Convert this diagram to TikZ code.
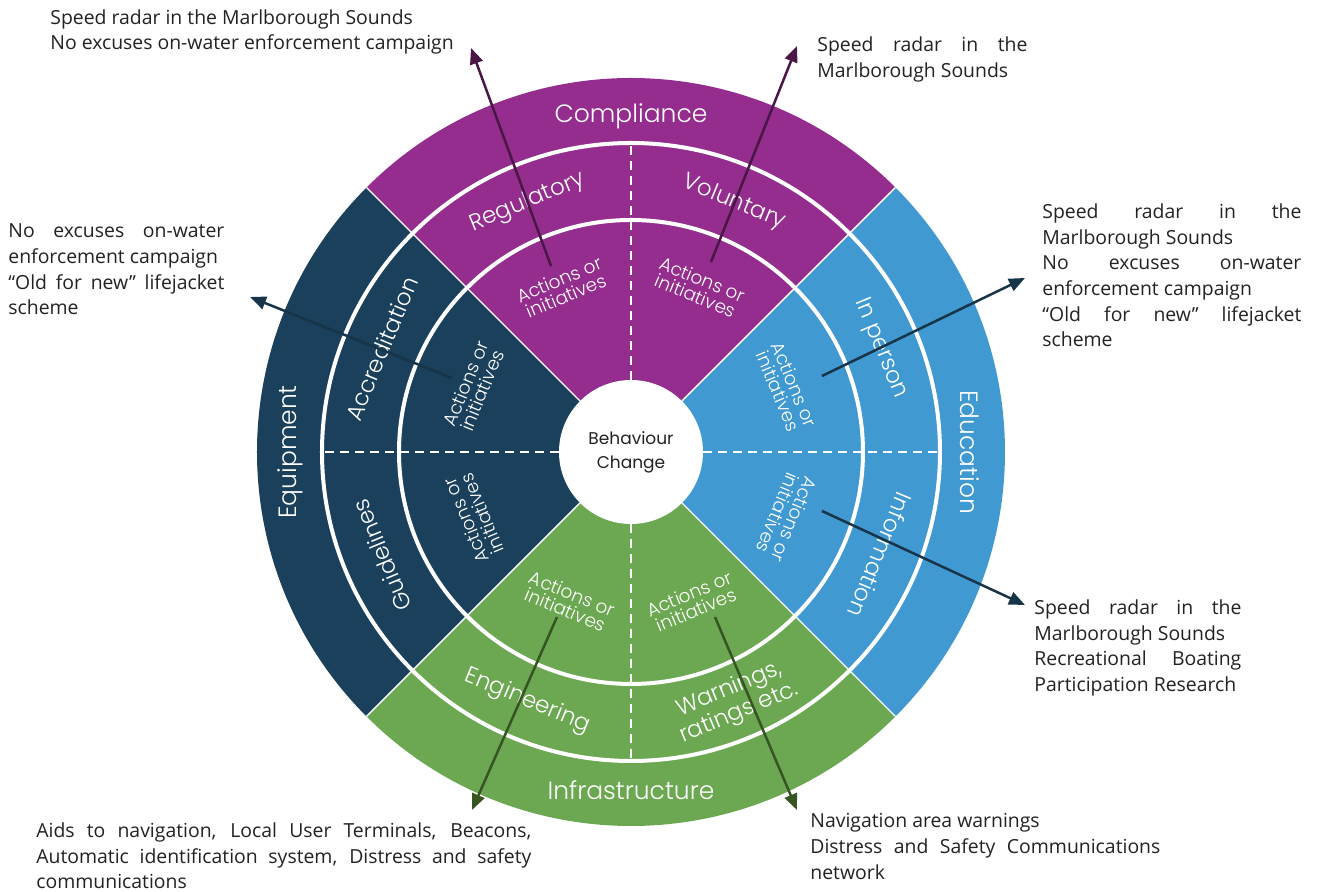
\documentclass[tikz,border=0pt]{standalone}
\usepackage{fontspec}
\setmainfont{Open Sans}
\newfontfamily\wheelfont{Poppins Light}
\newfontfamily\centrefont{Poppins}
\usetikzlibrary{arrows.meta}

\definecolor{compcol}{RGB}{148,45,141}
\definecolor{equipcol}{RGB}{26,64,91}
\definecolor{educol}{RGB}{65,153,210}
\definecolor{infracol}{RGB}{108,168,82}
\definecolor{comparrow}{RGB}{74,22,70}
\definecolor{navyarrow}{RGB}{23,52,72}
\definecolor{infraarrow}{RGB}{55,85,35}
\definecolor{notecol}{RGB}{34,34,34}

\tikzset{
  note/.style={inner sep=0pt, text=notecol, anchor=west, align=left,
    font=\fontsize{9.7}{12.8}\selectfont},
  jnote/.style={note, text width=#1, align=justify},
  wlabel/.style={text=white, inner sep=0pt, align=center,
    font=\wheelfont\fontsize{11.5}{10.5}\selectfont},
  blabel/.style={wlabel, font=\wheelfont\fontsize{12.5}{12.5}\selectfont},
  alabel/.style={wlabel, font=\wheelfont\fontsize{9.2}{8.8}\selectfont},
  pointer/.style={draw=#1, line width=1.25pt, -{Triangle[length=8pt,width=6.5pt]}},
  ring/.style={draw=white, line width=2pt},
  split/.style={draw=white, line width=1pt, dash pattern=on 4.5pt off 3pt},
}

\begin{document}
\begin{tikzpicture}[x=0.5pt,y=0.5pt]
  \useasboundingbox (-631,-440) rectangle (687,452);

  % the four quarters of the wheel
  \foreach \a/\c in {45/compcol,135/equipcol,225/infracol,-45/educol}
    \fill[\c] (0,0) -- (\a:374) arc[start angle=\a, delta angle=90, radius=374] -- cycle;
  \draw[ring] (0,0) circle[radius=232];
  \draw[ring] (0,0) circle[radius=309];
  \foreach \a in {45,135,225,315}
    \draw[white, line width=0.7pt] (\a:72) -- (\a:374);
  \foreach \a in {0,90,180,270}
    \draw[split] (\a:72) -- (\a:309);

  \node (centre) [circle, fill=white, minimum size=72pt, inner sep=0pt, align=center,
    text=notecol, font=\centrefont\fontsize{8.5}{12}\selectfont] at (0,0) {Behaviour\\Change};

  \node (compliance) [blabel] at (90:336) {Compliance};
  \node (regulatory) [wlabel, rotate=22.5] at (112.5:270) {Regulatory};
  \node (voluntary) [wlabel, rotate=-22.5] at (67.5:270) {Voluntary};
  \node (compactL) [alabel, rotate=22.5] at (112.5:178) {Actions or\\initiatives};
  \node (compactR) [alabel, rotate=-22.5] at (67.5:178) {Actions or\\initiatives};

  \node (equipment) [blabel, rotate=90] at (180:341) {Equipment};
  \node (accreditation) [wlabel, rotate=67.5] at (157.5:270) {Accreditation};
  \node (guidelines) [wlabel, rotate=112.5] at (202.5:270) {Guidelines};
  \node (equipactU) [alabel, rotate=67.5] at (157.5:170) {Actions or\\initiatives};
  \node (equipactD) [alabel, rotate=112.5] at (202.5:170) {Actions or\\initiatives};

  \node (education) [blabel, rotate=-90] at (0:339) {Education};
  \node (inperson) [wlabel, rotate=-67.5] at (22.5:270) {In person};
  \node (information) [wlabel, rotate=-112.5] at (-22.5:270) {Information};
  \node (eduactU) [alabel, rotate=-67.5] at (22.5:168) {Actions or\\initiatives};
  \node (eduactD) [alabel, rotate=-112.5] at (-22.5:168) {Actions or\\initiatives};

  \node (infrastructure) [blabel] at (270:338) {Infrastructure};
  \node (engineering) [wlabel, rotate=-22.5] at (247.5:270) {Engineering};
  \node (warnings) [wlabel, rotate=22.5] at (292.5:270) {Warnings,\\ratings etc.};
  \node (infraactL) [alabel, rotate=-22.5] at (247.5:162) {Actions or\\initiatives};
  \node (infraactR) [alabel, rotate=22.5] at (292.5:162) {Actions or\\initiatives};

  % notes round the wheel
  \node (compnoteL) [note] at (-581,420)
    {Speed radar in the Marlborough Sounds\\No excuses on-water enforcement campaign};
  \node (compnoteR) [jnote=105pt] at (186,392.5)
    {Speed radar in the\linebreak Marlborough Sounds};
  \node (equipnote) [jnote=108pt] at (-623,182.5)
    {No excuses on-water\linebreak enforcement campaign\\“Old for new” lifejacket\linebreak scheme};
  \node (edunoteU) [jnote=129.5pt] at (411,176.5)
    {Speed radar in the\linebreak Marlborough Sounds\\No excuses on-water\linebreak
     enforcement campaign\\“Old for new” lifejacket\linebreak scheme};
  \node (edunoteD) [jnote=103.5pt] at (403,-196)
    {Speed radar in the\linebreak Marlborough Sounds\\Recreational Boating\linebreak Participation Research};
  \node (infranoteL) [jnote=247.5pt] at (-595,-404)
    {Aids to navigation, Local User Terminals, Beacons,\linebreak
     Automatic identification system, Distress and safety\linebreak communications};
  \node (infranoteR) [jnote=175pt] at (179,-394.5)
    {Navigation area warnings\\Distress and Safety Communications\linebreak network};

  \coordinate (compLs) at (-80,186);
  \coordinate (compLt) at (-160,404);
  \coordinate (compRs) at (80,190);
  \coordinate (compRt) at (166,406);
  \coordinate (equipS) at (-179,74);
  \coordinate (equipT) at (-381,155);
  \coordinate (eduUs) at (191,76);
  \coordinate (eduUt) at (394,174);
  \coordinate (eduDs) at (191,-59);
  \coordinate (eduDt) at (394,-153);
  \coordinate (infraLs) at (-74,-165);
  \coordinate (infraLt) at (-159,-358);
  \coordinate (infraRs) at (84,-165);
  \coordinate (infraRt) at (166,-358);
  \path
    (compLs) edge[pointer=comparrow] (compLt)
    (compRs) edge[pointer=comparrow] (compRt)
    (equipS) edge[pointer=navyarrow] (equipT)
    (eduUs) edge[pointer=navyarrow] (eduUt)
    (eduDs) edge[pointer=navyarrow] (eduDt)
    (infraLs) edge[pointer=infraarrow] (infraLt)
    (infraRs) edge[pointer=infraarrow] (infraRt)
    ;
\end{tikzpicture}
\end{document}
